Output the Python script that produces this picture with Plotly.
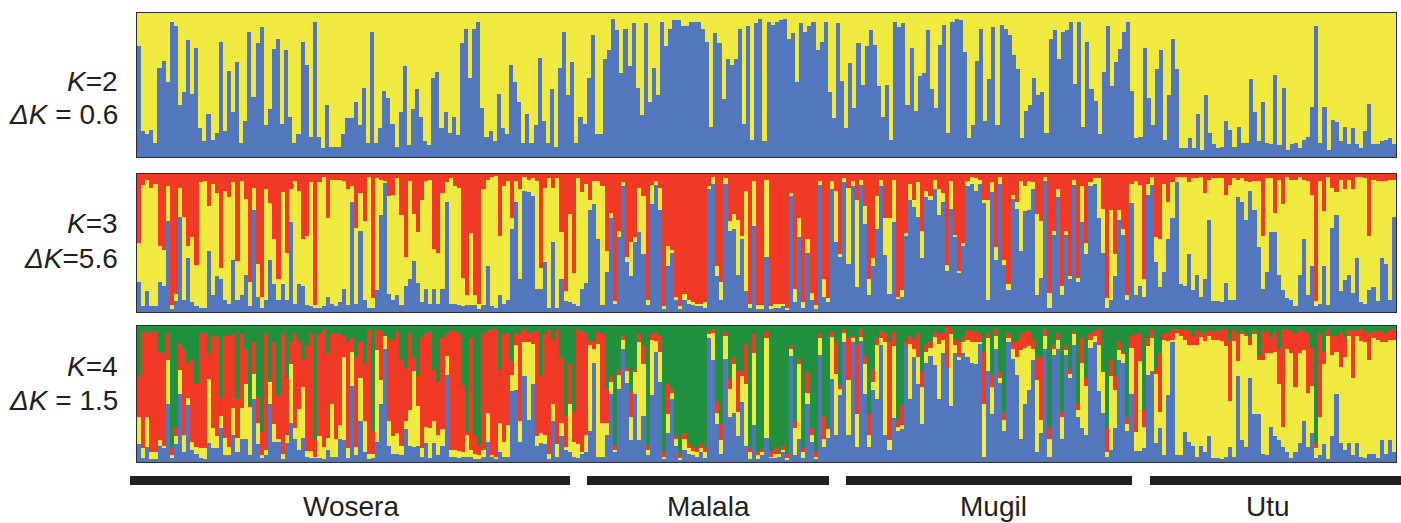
import plotly.graph_objects as go

WIDTH, HEIGHT = 1401, 523
BLUE, YELLOW, RED, GREEN = "#5277BC", "#F0E93F", "#F03A26", "#21903F"
INK = "#231F20"

# Percent membership per individual, read left to right.
# K=2: blue share (the rest is yellow).
k2_blue = [
77,18,16,19,10,62,67,52,94,91,36,45,81,44,76,20,11,30,12,17,80,18,60,31,66,10,25,87,42,79,90,22,33,75,82,23,74,28,10,16,80,64,14,94,14,6,36,7,7,7,16,27,27,38,22,48,10,87,10,20,46,41,23,7,31,63,8,33,47,28,11,8,55,59,20,31,17,28,15,
79,89,55,89,94,34,14,18,11,44,20,16,64,52,38,10,30,10,22,69,25,10,47,7,62,87,43,66,10,28,23,55,85,16,16,68,74,96,88,58,89,63,93,48,29,93,38,62,43,94,77,89,95,95,91,91,94,94,94,89,80,21,86,79,40,68,64,68,89,23,91,12,93,96,11,94,92,94,95,96,
82,86,52,93,87,91,94,74,80,94,45,27,93,53,20,65,34,79,50,77,88,78,49,28,50,12,94,90,93,36,76,32,56,58,88,47,34,78,92,17,94,96,95,73,13,22,67,89,25,54,90,22,92,89,85,71,61,13,32,36,55,43,45,17,82,88,68,87,88,94,51,94,21,80,47,39,16,
59,91,49,66,75,87,94,46,13,14,76,41,22,61,74,12,43,82,61,6,6,13,6,30,5,43,17,9,6,7,25,19,7,21,10,10,54,31,11,38,10,9,57,8,48,5,9,10,6,12,14,35,91,10,35,5,26,24,11,21,9,20,9,6,18,37,9,9,11,12,13,9]

# K=3: blue share, and blue + yellow combined (the rest is red).
k3_blue = [
22,4,15,4,4,22,19,66,2,8,69,9,39,7,4,3,3,44,12,26,24,9,6,38,9,12,27,4,74,11,3,9,38,20,9,20,9,65,6,20,19,5,4,3,3,4,11,6,4,7,17,5,80,6,59,9,3,3,16,70,94,13,9,12,5,19,24,37,21,7,17,6,17,6,17,80,6,6,5,
4,5,5,5,2,5,33,4,3,12,6,9,60,80,24,88,87,84,17,17,36,3,51,3,24,8,7,6,4,17,21,74,78,53,5,29,68,6,54,91,36,26,51,58,42,5,78,92,74,2,33,43,9,2,9,6,5,4,5,3,89,93,26,9,93,59,60,27,53,15,3,62,2,2,40,2,3,3,4,2,84,7,54,3,43,9,2,92,11,7,89,51,40,94,
35,91,18,92,64,12,33,60,91,41,13,65,10,11,55,81,76,69,39,83,81,89,70,80,30,75,54,28,48,91,93,88,93,79,9,87,38,93,34,16,82,75,44,73,74,89,12,25,95,3,56,83,12,56,24,92,22,65,42,91,93,68,43,3,9,26,67,56,9,79,12,19,11,85,92,36,18,29,53,68,
94,20,19,42,16,27,11,24,67,8,8,7,21,9,9,83,80,67,88,74,47,17,29,58,58,27,16,10,9,4,27,53,12,33,4,6,33,5,61,70,15,23,27,14,39,7,6,16,18,8,39,35,9,69]
k3_blue_yellow = [
50,92,96,90,93,48,45,91,5,13,90,69,48,54,34,94,95,77,93,86,32,88,83,94,37,95,82,22,90,35,11,89,79,53,24,87,43,89,95,88,53,55,94,5,94,98,68,96,96,96,95,89,91,61,86,66,98,10,97,96,95,84,85,97,70,40,95,71,58,81,95,96,46,43,86,94,97,91,90,
25,12,57,12,6,89,96,98,99,55,91,95,68,95,89,98,96,97,95,32,90,97,90,97,58,15,71,28,97,87,93,81,95,95,91,44,72,8,59,94,40,51,54,90,84,9,92,95,90,4,48,45,11,4,13,9,7,6,6,7,91,98,33,22,97,66,71,67,55,88,6,95,5,5,96,4,6,6,6,3,86,17,68,7,53,14,5,95,24,10,95,88,42,97,
90,95,81,96,77,24,39,84,96,68,68,96,11,16,57,93,81,94,59,88,84,96,89,86,34,95,56,30,50,95,98,97,96,81,81,94,47,98,38,20,85,80,95,91,95,94,71,66,98,14,59,89,19,59,26,96,25,91,50,94,97,97,75,10,74,42,74,60,12,93,95,92,24,93,98,54,53,93,80,94,
98,98,98,94,97,97,98,86,96,97,97,97,85,92,97,96,97,95,94,95,95,55,97,97,72,96,78,98,96,96,98,96,95,85,8,95,73,98,90,87,96,89,96,89,98,98,97,55,96,95,95,95,96,96]

# K=4: blue share, blue + yellow, blue + yellow + red (the rest is green).
k4_blue = [
13,3,11,2,2,12,10,43,3,13,50,7,42,9,6,3,2,14,10,10,25,5,5,20,7,17,17,5,46,13,3,5,43,15,15,2,14,29,17,9,18,4,3,3,3,2,9,4,4,17,16,3,56,5,30,7,2,3,15,43,83,12,6,6,5,24,12,11,12,4,14,3,14,5,12,64,4,4,3,
4,4,4,2,2,4,15,4,2,7,4,4,52,53,15,63,31,57,12,14,13,2,30,4,19,9,7,4,3,6,7,23,73,4,4,20,50,7,54,83,58,16,50,16,34,5,49,81,59,2,21,46,12,2,9,6,5,4,7,3,91,75,28,6,76,33,36,19,44,12,2,27,2,5,18,3,3,4,7,2,78,5,17,3,43,15,2,79,11,18,61,20,49,88,20,
88,11,89,50,11,53,46,86,20,9,32,23,24,85,46,77,57,28,73,78,71,46,80,70,41,80,75,80,77,73,72,87,4,67,35,83,58,23,88,76,64,17,43,53,75,7,21,83,4,79,83,17,79,62,86,33,25,20,84,88,52,36,4,9,25,75,73,23,50,8,8,10,64,67,14,25,5,49,88,
5,5,22,15,12,4,12,7,19,3,3,2,4,11,4,63,16,11,62,35,35,6,5,26,19,16,11,7,3,7,14,30,11,21,3,5,13,2,19,50,14,9,14,5,14,4,3,6,6,3,16,6,16,7]
k4_blue_yellow = [
33,10,33,7,7,16,12,75,5,19,68,20,47,15,11,10,10,61,25,19,34,18,11,40,18,40,57,41,65,29,5,9,59,28,17,6,20,72,25,39,55,8,8,4,19,11,18,43,17,27,77,10,81,11,62,30,6,6,82,60,93,30,19,21,12,30,38,67,41,10,26,25,30,20,24,78,9,9,8,
7,20,9,6,5,9,36,5,4,29,15,27,64,86,30,88,88,87,19,21,20,6,43,13,29,11,43,15,13,7,20,86,83,87,29,29,59,9,64,90,67,33,66,88,72,9,90,89,81,4,35,51,17,3,17,10,8,7,10,7,94,95,36,16,93,54,72,37,63,57,7,80,5,7,91,4,6,6,9,3,83,25,72,7,51,20,4,91,17,24,92,65,54,95,60,
91,35,92,72,20,59,86,91,88,16,85,26,27,85,87,83,77,55,81,84,92,87,90,31,94,86,77,88,90,88,88,88,43,91,55,93,62,31,91,83,77,82,84,85,83,60,31,93,17,83,90,33,82,65,94,38,73,56,90,93,86,66,7,63,53,82,80,28,84,22,74,26,85,91,65,37,90,89,90,
95,93,90,86,86,86,92,89,93,90,90,89,85,45,89,74,94,93,86,94,75,75,80,80,81,57,26,83,80,55,80,82,51,56,10,33,72,93,79,81,70,77,93,62,93,89,88,75,91,90,88,88,90,90]
k4_blue_yellow_red = [
64,96,95,96,96,81,80,95,11,25,87,83,73,75,57,95,95,80,93,92,47,93,93,94,46,94,83,42,88,48,23,95,59,88,49,95,62,88,95,88,75,85,95,16,94,98,80,95,95,95,93,88,91,77,88,72,98,23,97,96,93,90,90,96,75,70,95,77,64,92,95,96,68,59,91,95,97,96,95,
56,23,91,19,12,95,96,98,98,68,94,95,74,95,94,98,95,96,96,64,94,98,90,97,77,34,72,37,98,96,95,89,88,96,94,54,64,12,68,93,70,52,68,94,86,12,94,95,93,7,58,54,19,6,21,14,10,10,13,11,96,98,44,28,96,60,77,67,67,87,11,94,8,9,96,7,11,8,12,6,86,30,76,10,66,26,7,94,34,26,96,88,56,98,91,
93,87,98,79,35,68,92,96,95,88,96,30,42,88,93,90,95,67,86,89,96,94,95,80,97,90,88,91,97,96,96,95,81,95,64,98,66,36,95,88,88,95,96,96,90,77,77,98,25,86,95,37,85,68,96,43,91,62,95,97,97,66,25,76,63,89,81,33,93,94,95,38,91,97,68,80,94,95,98,
98,97,97,96,93,97,95,95,97,96,96,98,97,89,97,95,96,95,92,96,78,96,96,92,96,82,98,98,96,95,98,96,95,84,14,95,81,98,93,93,96,92,98,96,97,98,96,95,96,96,96,95,97,98]

panel_labels = [("K", "=2", "ΔK", " = 0.6"), ("K", "=3", "ΔK", "=5.6"), ("K", "=4", "ΔK", " = 1.5")]
groups = ["Wosera", "Malala", "Mugil", "Utu"]


def px_x(v):
    return v / WIDTH


def px_y(v):
    return 1 - v / HEIGHT


def diffs(*cums):
    out, prev = [], [0] * len(cums[0])
    for c in cums:
        out.append([max(0, a - b) for a, b in zip(c, prev)])
        prev = c
    out.append([max(0, 100 - b) for b in prev])
    return out


assert len(k3_blue) == len(k3_blue_yellow) and len(k4_blue) == len(k4_blue_yellow) == len(k4_blue_yellow_red), (
    len(k2_blue), len(k3_blue), len(k3_blue_yellow), len(k4_blue), len(k4_blue_yellow), len(k4_blue_yellow_red))

fig = go.Figure()
panels = [
    ("x", "y", diffs(k2_blue), [BLUE, YELLOW], (13, 157)),
    ("x2", "y2", diffs(k3_blue, k3_blue_yellow), [BLUE, YELLOW, RED], (174, 312)),
    ("x3", "y3", diffs(k4_blue, k4_blue_yellow, k4_blue_yellow_red), [BLUE, YELLOW, RED, GREEN], (326, 462)),
]
layout = {}
for (xa, ya, series, colors, (top, bottom)) in panels:
    n = len(series[0])
    xs = list(range(n))
    for vals, col in zip(series, colors):
        fig.add_trace(go.Bar(x=xs, y=vals, xaxis=xa, yaxis=ya, width=1, marker=dict(color=col, line=dict(width=0)),
                             showlegend=False, hoverinfo="skip"))
    sx = "xaxis" + xa[1:]
    sy = "yaxis" + ya[1:]
    layout[sx] = dict(domain=[px_x(137), px_x(1396)], range=[-0.5, n - 0.5], anchor=ya, showticklabels=False,
                      ticks="", showgrid=False, zeroline=False, showline=True, linecolor="#2b2b33", linewidth=1, mirror=True)
    layout[sy] = dict(domain=[px_y(bottom), px_y(top)], range=[0, 100], anchor=xa, showticklabels=False,
                      ticks="", showgrid=False, zeroline=False, showline=True, linecolor="#2b2b33", linewidth=1, mirror=True)

annotations = []
label_rows = [(82, 114), (223, 258), (366, 400)]
for (k, kv, d, dv), (y1, y2) in zip(panel_labels, label_rows):
    annotations.append(dict(text=f"<i>{k}</i>{kv}", x=px_x(120), y=px_y(y1), xref="paper", yref="paper",
                            xanchor="right", yanchor="middle", showarrow=False))
    annotations.append(dict(text=f"<i>{d}</i>{dv}", x=px_x(120), y=px_y(y2), xref="paper", yref="paper",
                            xanchor="right", yanchor="middle", showarrow=False))
spans = [(130, 570), (587, 829), (846, 1132), (1150, 1401)]
group_centres = [351, 708, 993, 1268]
shapes = []
for name, (a, b), c in zip(groups, spans, group_centres):
    shapes.append(dict(type="rect", xref="paper", yref="paper", x0=px_x(a), x1=px_x(b), y0=px_y(485), y1=px_y(476),
                       fillcolor=INK, line=dict(width=0)))
    annotations.append(dict(text=name, x=px_x(c), y=px_y(506), xref="paper", yref="paper",
                            xanchor="center", yanchor="middle", showarrow=False))

fig.update_layout(width=WIDTH, height=HEIGHT, margin=dict(l=0, r=0, t=0, b=0), barmode="stack", bargap=0,
                  paper_bgcolor="white", plot_bgcolor="white", showlegend=False,
                  font=dict(family="Liberation Sans, Arial, sans-serif", size=28, color=INK),
                  annotations=annotations, shapes=shapes, **layout)
fig.write_html("out.html", post_script="document.body.style.margin='0';document.body.style.overflow='hidden';",
               config={"displayModeBar": False})
